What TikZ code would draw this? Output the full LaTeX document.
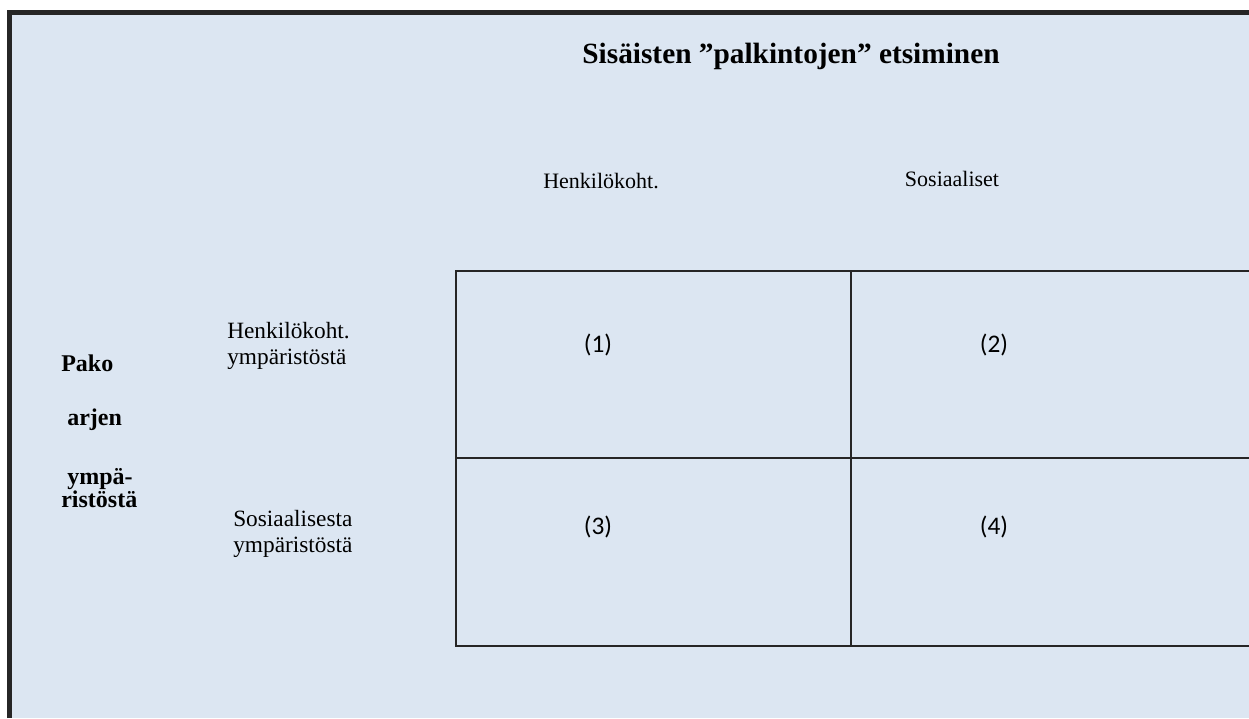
\documentclass[tikz,border=0pt]{standalone}
\usepackage{fontspec}
\setmainfont{Liberation Serif}
\newfontfamily\numfont{Carlito}
\definecolor{bgblue}{HTML}{DCE6F2}
\definecolor{framegray}{HTML}{262626}
\begin{document}
\begin{tikzpicture}[x=0.75pt, y=-0.75pt,
    lbl/.style={font=\fontsize{16.5}{18}\selectfont, inner sep=0pt},
    sidelbl/.style={font=\fontsize{17.5}{19.5}\selectfont, inner sep=0pt, align=left, anchor=west},
    boldlbl/.style={font=\bfseries\fontsize{18}{12}\selectfont, inner sep=0pt, anchor=west},
    cellnum/.style={font=\numfont\fontsize{19}{20}\selectfont, inner sep=0pt}]
    \useasboundingbox (0,0) rectangle (1249,718);
    \fill[bgblue] (12,15) rectangle (1249,718);
    \draw[framegray, line width=3.75pt] (9.5,718) -- (9.5,12.5) -- (1249,12.5);
    % the grid
    \draw[framegray, line width=1.5pt] (456,271) rectangle (1255,646);
    \draw[framegray, line width=1.5pt] (851,271) -- (851,646);
    \draw[framegray, line width=1.5pt] (456,458) -- (1249,458);
    % headings
    \node[font=\bfseries\fontsize{22}{24}\selectfont, inner sep=0pt] (title) at (791,56) {Sisäisten ”palkintojen” etsiminen};
    \node[lbl] (colA) at (601,181) {Henkilökoht.};
    \node[lbl] (colB) at (952,179) {Sosiaaliset};
    \node[sidelbl] (rowA) at (227,346) {Henkilökoht.\\ympäristöstä};
    \node[sidelbl] (rowB) at (233,534) {Sosiaalisesta\\ympäristöstä};
    \node[boldlbl] (pako) at (61,363) {Pako};
    \node[boldlbl] (arjen) at (67,420) {arjen};
    \node[boldlbl, align=left] (ymp) at (61,488) {\ ympä-\\ristöstä};
    % cells
    \node[cellnum] (c1) at (598,345) {(1)};
    \node[cellnum] (c2) at (994,345) {(2)};
    \node[cellnum] (c3) at (598,527) {(3)};
    \node[cellnum] (c4) at (994,527) {(4)};
\end{tikzpicture}
\end{document}
